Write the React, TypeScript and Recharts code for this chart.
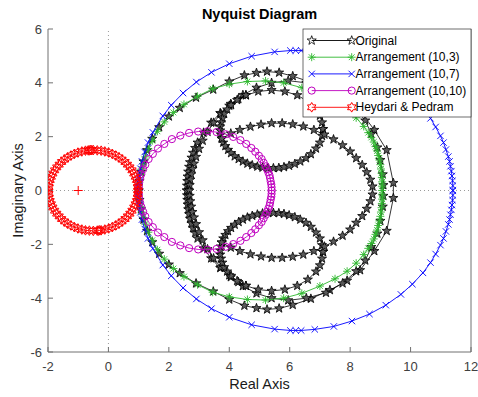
import React from 'react';
import { ScatterChart, Scatter, XAxis, YAxis, ReferenceLine } from 'recharts';

type Pt = [number, number];

const REAL_TICKS = [-2, 0, 2, 4, 6, 8, 10, 12];
const IMAG_TICKS = [-6, -4, -2, 0, 2, 4, 6];

const SERIES_NAMES = ['Original', 'Arrangement (10,3)', 'Arrangement (10,7)', 'Arrangement (10,10)', 'Heydari & Pedram'];

// Original design: outer branch starting at 1
const originalOuter: Pt[] = [
  [1.00, 0.00], [1.03, 0.35], [1.08, 0.70], [1.16, 1.08], [1.28, 1.50], [1.45, 1.92], [1.68, 2.35], [2.00, 2.75],
  [2.36, 3.07], [2.90, 3.45], [3.47, 3.75], [4.00, 4.05], [4.50, 4.28], [4.90, 4.37], [5.25, 4.42], [5.65, 4.38],
  [6.10, 4.25], [6.70, 4.02], [7.33, 3.70], [7.90, 3.35], [8.33, 2.96], [8.80, 2.25], [9.21, 1.50], [9.43, 0.28],
  [9.43, -0.28], [9.21, -1.50], [8.80, -2.25], [8.33, -2.96], [7.90, -3.35], [7.33, -3.70], [6.70, -4.02], [6.10, -4.25],
  [5.65, -4.38], [5.25, -4.42], [4.90, -4.37], [4.50, -4.28], [4.00, -4.05], [3.47, -3.75], [2.90, -3.45], [2.36, -3.07],
  [2.00, -2.75], [1.68, -2.35], [1.45, -1.92], [1.28, -1.50], [1.16, -1.08], [1.08, -0.70], [1.03, -0.35], [1.00, 0.00],
];

// Original design: branch starting at 2.6
const originalMiddle: Pt[] = [
  [2.60, 0.00], [2.60, 0.18], [2.61, 0.35], [2.62, 0.52], [2.64, 0.70], [2.67, 0.88], [2.70, 1.05], [2.75, 1.22],
  [2.80, 1.40], [2.87, 1.58], [2.95, 1.78], [3.15, 2.15], [3.40, 2.52], [3.70, 2.88], [4.05, 3.22], [4.45, 3.55],
  [4.90, 3.82], [5.40, 4.00], [5.95, 4.08], [6.55, 4.00], [7.20, 3.80], [7.75, 3.45], [8.20, 3.00], [8.50, 2.60],
  [8.70, 2.10], [8.90, 1.60], [9.00, 1.13], [9.08, 0.60], [9.10, 0.20],
  [9.10, -0.20], [9.08, -0.60], [9.00, -1.13], [8.90, -1.60], [8.70, -2.10], [8.50, -2.60], [8.20, -3.00], [7.75, -3.45],
  [7.20, -3.80], [6.55, -4.00], [5.95, -4.08], [5.40, -4.00], [4.90, -3.82], [4.45, -3.55], [4.05, -3.22], [3.70, -2.88],
  [3.40, -2.52], [3.15, -2.15], [2.95, -1.78], [2.87, -1.58], [2.80, -1.40], [2.75, -1.22], [2.70, -1.05], [2.67, -0.88],
  [2.64, -0.70], [2.62, -0.52], [2.61, -0.35], [2.60, -0.18], [2.60, 0.00],
];

// Original design: branch joining the two small loops through 2.68
const originalInner: Pt[] = [
  [4.55, 3.54], [4.30, 3.40], [4.00, 3.15], [3.72, 2.85], [3.48, 2.52], [3.28, 2.18], [3.12, 1.85], [3.00, 1.55],
  [2.90, 1.25], [2.83, 1.00], [2.78, 0.80], [2.74, 0.60], [2.71, 0.40], [2.69, 0.20], [2.68, 0.00],
  [2.69, -0.20], [2.71, -0.40], [2.74, -0.60], [2.78, -0.80], [2.83, -1.00], [2.90, -1.25], [3.00, -1.55], [3.12, -1.85],
  [3.28, -2.18], [3.48, -2.52], [3.72, -2.85], [4.00, -3.15], [4.30, -3.40], [4.55, -3.54],
];

// Original design: small loop above the real axis
const originalUpperLoop: Pt[] = [
  [7.10, 2.28], [7.07, 2.53], [7.00, 2.78], [6.87, 3.01], [6.60, 3.31], [6.25, 3.54], [5.84, 3.68], [5.40, 3.73],
  [4.96, 3.68], [4.55, 3.54], [4.26, 3.36], [4.06, 3.17], [3.93, 3.01], [3.83, 2.85], [3.77, 2.68], [3.73, 2.53],
  [3.70, 2.38], [3.70, 2.23], [3.72, 2.08], [3.75, 1.93], [3.80, 1.78], [3.87, 1.65], [3.96, 1.51], [4.06, 1.39],
  [4.18, 1.27], [4.31, 1.17], [4.45, 1.08], [4.60, 1.00], [4.76, 0.94], [4.93, 0.89], [5.10, 0.85], [5.28, 0.83],
  [5.46, 0.83], [5.64, 0.84], [5.81, 0.87], [5.98, 0.92], [6.17, 0.99], [6.35, 1.08], [6.54, 1.20], [6.70, 1.35],
  [6.87, 1.56], [7.00, 1.78], [7.07, 2.03], [7.10, 2.28],
];

// Original design: small loop below the real axis
const originalLowerLoop: Pt[] = [
  [7.10, -2.28], [7.07, -2.53], [7.00, -2.78], [6.87, -3.01], [6.60, -3.31], [6.25, -3.54], [5.84, -3.68], [5.40, -3.73],
  [4.96, -3.68], [4.55, -3.54], [4.26, -3.36], [4.06, -3.17], [3.93, -3.01], [3.83, -2.85], [3.77, -2.68], [3.73, -2.53],
  [3.70, -2.38], [3.70, -2.23], [3.72, -2.08], [3.75, -1.93], [3.80, -1.78], [3.87, -1.65], [3.96, -1.51], [4.06, -1.39],
  [4.18, -1.27], [4.31, -1.17], [4.45, -1.08], [4.60, -1.00], [4.76, -0.94], [4.93, -0.89], [5.10, -0.85], [5.28, -0.83],
  [5.46, -0.83], [5.64, -0.84], [5.81, -0.87], [5.98, -0.92], [6.17, -0.99], [6.35, -1.08], [6.54, -1.20], [6.70, -1.35],
  [6.87, -1.56], [7.00, -1.78], [7.07, -2.03], [7.10, -2.28],
];

// Original design: arc crossing the real axis at 8.77
const originalArc: Pt[] = [
  [3.75, 1.93], [4.05, 2.12], [4.35, 2.25], [4.70, 2.37], [5.05, 2.45], [5.40, 2.50], [5.75, 2.50], [6.10, 2.46],
  [6.45, 2.38], [6.80, 2.25], [7.15, 2.08], [7.45, 1.90], [7.75, 1.68], [8.00, 1.45], [8.20, 1.20], [8.40, 0.95],
  [8.55, 0.68], [8.67, 0.40], [8.74, 0.15],
  [8.74, -0.15], [8.67, -0.40], [8.55, -0.68], [8.40, -0.95], [8.20, -1.20], [8.00, -1.45], [7.75, -1.68], [7.45, -1.90],
  [7.15, -2.08], [6.80, -2.25], [6.45, -2.38], [6.10, -2.46], [5.75, -2.50], [5.40, -2.50], [5.05, -2.45], [4.70, -2.37],
  [4.35, -2.25], [4.05, -2.12], [3.75, -1.93],
];

const arrangement10x3: Pt[] = [
  [1.00, 0.00], [1.01, 0.20], [1.03, 0.40], [1.06, 0.60], [1.10, 0.80], [1.15, 1.00], [1.22, 1.25], [1.32, 1.55],
  [1.45, 1.85], [1.62, 2.20], [1.85, 2.55], [2.15, 2.90], [2.50, 3.20], [2.95, 3.50], [3.45, 3.78], [4.00, 3.95],
  [4.60, 4.05], [5.20, 4.07], [5.80, 4.00], [6.40, 3.82], [7.00, 3.55], [7.50, 3.28], [7.90, 3.00], [8.20, 2.70],
  [8.45, 2.38], [8.60, 2.15], [8.70, 1.97], [8.78, 1.80], [8.84, 1.63], [8.89, 1.47], [8.93, 1.30], [8.97, 1.13],
  [9.00, 0.96], [9.02, 0.80], [9.04, 0.64], [9.05, 0.48], [9.06, 0.32], [9.06, 0.16], [9.06, 0.00],
  [9.06, -0.16], [9.06, -0.32], [9.05, -0.48], [9.04, -0.64], [9.02, -0.80], [9.00, -0.96], [8.97, -1.13], [8.93, -1.30],
  [8.89, -1.47], [8.84, -1.63], [8.78, -1.80], [8.70, -1.97], [8.60, -2.15], [8.45, -2.38], [8.20, -2.70], [7.90, -3.00],
  [7.50, -3.28], [7.00, -3.55], [6.40, -3.82], [5.80, -4.00], [5.20, -4.07], [4.60, -4.05], [4.00, -3.95], [3.45, -3.78],
  [2.95, -3.50], [2.50, -3.20], [2.15, -2.90], [1.85, -2.55], [1.62, -2.20], [1.45, -1.85], [1.32, -1.55], [1.22, -1.25],
  [1.15, -1.00], [1.10, -0.80], [1.06, -0.60], [1.03, -0.40], [1.01, -0.20], [1.00, 0.00],
];

const arrangement10x7: Pt[] = [
  [11.40, 0.00], [11.40, 0.18], [11.39, 0.36], [11.37, 0.54], [11.35, 0.72], [11.32, 0.90], [11.29, 1.08], [11.25, 1.26],
  [11.17, 1.52], [11.09, 1.78], [10.99, 2.03], [10.83, 2.36], [10.66, 2.68], [10.41, 3.06], [10.06, 3.48], [9.68, 3.86],
  [9.18, 4.26], [8.64, 4.59], [8.06, 4.85], [7.46, 5.05], [6.83, 5.16], [6.38, 5.20], [6.20, 5.20], [6.02, 5.20],
  [5.50, 5.15], [4.74, 4.99], [4.00, 4.71], [3.41, 4.39], [2.91, 4.03], [2.47, 3.62], [2.08, 3.17], [1.80, 2.77],
  [1.47, 2.16], [1.31, 1.78], [1.20, 1.43], [1.11, 1.08], [1.06, 0.81], [1.03, 0.54], [1.01, 0.27], [1.00, 0.00],
  [1.01, -0.27], [1.03, -0.54], [1.06, -0.81], [1.11, -1.08], [1.20, -1.43], [1.31, -1.78], [1.47, -2.16], [1.80, -2.77],
  [2.08, -3.17], [2.47, -3.62], [2.91, -4.03], [3.41, -4.39], [4.00, -4.71], [4.74, -4.99], [5.50, -5.15], [6.02, -5.20],
  [6.20, -5.20], [6.38, -5.20], [6.83, -5.16], [7.46, -5.05], [8.06, -4.85], [8.64, -4.59], [9.18, -4.26], [9.68, -3.86],
  [10.06, -3.48], [10.41, -3.06], [10.66, -2.68], [10.83, -2.36], [10.99, -2.03], [11.09, -1.78], [11.17, -1.52], [11.25, -1.26],
  [11.29, -1.08], [11.32, -0.90], [11.35, -0.72], [11.37, -0.54], [11.39, -0.36], [11.40, -0.18], [11.40, 0.00],
];

const arrangement10x10: Pt[] = [
  [5.40, 0.00], [5.40, 0.12], [5.39, 0.23], [5.37, 0.34], [5.35, 0.46], [5.33, 0.57], [5.29, 0.68], [5.25, 0.79],
  [5.21, 0.90], [5.14, 1.03], [5.07, 1.17], [4.98, 1.29], [4.86, 1.44], [4.73, 1.58], [4.56, 1.73], [4.37, 1.87],
  [4.13, 1.99], [3.88, 2.09], [3.58, 2.17], [3.28, 2.20], [2.97, 2.19], [2.67, 2.14], [2.38, 2.04], [2.10, 1.91],
  [1.85, 1.73], [1.64, 1.56], [1.47, 1.36], [1.33, 1.17], [1.22, 0.96], [1.15, 0.79], [1.09, 0.61], [1.05, 0.46],
  [1.02, 0.31], [1.01, 0.15], [1.00, 0.00],
  [1.01, -0.15], [1.02, -0.31], [1.05, -0.46], [1.09, -0.61], [1.15, -0.79], [1.22, -0.96], [1.33, -1.17], [1.47, -1.36],
  [1.64, -1.56], [1.85, -1.73], [2.10, -1.91], [2.38, -2.04], [2.67, -2.14], [2.97, -2.19], [3.28, -2.20], [3.58, -2.17],
  [3.88, -2.09], [4.13, -1.99], [4.37, -1.87], [4.56, -1.73], [4.73, -1.58], [4.86, -1.44], [4.98, -1.29], [5.07, -1.17],
  [5.14, -1.03], [5.21, -0.90], [5.25, -0.79], [5.29, -0.68], [5.33, -0.57], [5.35, -0.46], [5.37, -0.34], [5.39, -0.23],
  [5.40, -0.12], [5.40, 0.00],
];

const heydariPedram: Pt[] = [
  [0.98, 0.00], [0.97, 0.13], [0.96, 0.26], [0.93, 0.39], [0.89, 0.51], [0.84, 0.63], [0.78, 0.75], [0.71, 0.86],
  [0.63, 0.96], [0.55, 1.06], [0.45, 1.15], [0.35, 1.23], [0.24, 1.30], [0.13, 1.36], [0.01, 1.41], [-0.12, 1.45],
  [-0.24, 1.48], [-0.37, 1.49], [-0.50, 1.50], [-0.55, 1.50], [-0.59, 1.50], [-0.63, 1.49], [-0.67, 1.49], [-0.76, 1.48],
  [-0.88, 1.45], [-1.01, 1.41], [-1.13, 1.36], [-1.24, 1.30], [-1.35, 1.23], [-1.45, 1.15], [-1.55, 1.06], [-1.63, 0.96],
  [-1.71, 0.86], [-1.78, 0.75], [-1.84, 0.63], [-1.89, 0.51], [-1.93, 0.39], [-1.96, 0.26], [-1.97, 0.13], [-1.98, 0.00],
  [-1.97, -0.13], [-1.96, -0.26], [-1.93, -0.39], [-1.89, -0.51], [-1.84, -0.63], [-1.78, -0.75], [-1.71, -0.86], [-1.63, -0.96],
  [-1.55, -1.06], [-1.45, -1.15], [-1.35, -1.23], [-1.24, -1.30], [-1.13, -1.36], [-1.01, -1.41], [-0.88, -1.45], [-0.76, -1.48],
  [-0.63, -1.49], [-0.50, -1.50], [-0.37, -1.49], [-0.33, -1.49], [-0.29, -1.48], [-0.24, -1.48], [-0.12, -1.45], [0.01, -1.41],
  [0.13, -1.36], [0.24, -1.30], [0.35, -1.23], [0.45, -1.15], [0.55, -1.06], [0.63, -0.96], [0.71, -0.86], [0.78, -0.75],
  [0.84, -0.63], [0.89, -0.51], [0.93, -0.39], [0.96, -0.26], [0.97, -0.13], [0.98, 0.00],
];

const criticalPoint: Pt[] = [[-1, 0]];

const toRows = (pts: Pt[]) => pts.map(([x, y]) => ({ x, y }));

const FONT = "'Liberation Sans', Arial, Helvetica, sans-serif";
const C_BLACK = '#000000';
const C_GREEN = '#2eb82e';
const C_BLUE = '#0000ff';
const C_MAGENTA = '#bf00bf';
const C_RED = '#ff0000';

const starPoints = (cx: number, cy: number, R: number, n: number, inner: number) => {
  const out: string[] = [];
  for (let i = 0; i < 2 * n; i++) {
    const a = -Math.PI / 2 + (i * Math.PI) / n;
    const r = i % 2 === 0 ? R : R * inner;
    out.push(`${(cx + r * Math.cos(a)).toFixed(2)},${(cy + r * Math.sin(a)).toFixed(2)}`);
  }
  return out.join(' ');
};

type MP = { cx: number; cy: number; filled?: boolean };

const Pentagram = ({ cx, cy, filled = true }: MP) => (
  <polygon points={starPoints(cx, cy, 4.8, 5, 0.4)} fill={filled ? '#5a5a5a' : 'none'}
    stroke={C_BLACK} strokeWidth={0.8} />
);
const Asterisk = ({ cx, cy }: MP) => {
  const s = 4, d = 2.9;
  return (
    <g stroke={C_GREEN} strokeWidth={0.9}>
      <line x1={cx - s} y1={cy} x2={cx + s} y2={cy} />
      <line x1={cx} y1={cy - s} x2={cx} y2={cy + s} />
      <line x1={cx - d} y1={cy - d} x2={cx + d} y2={cy + d} />
      <line x1={cx - d} y1={cy + d} x2={cx + d} y2={cy - d} />
    </g>
  );
};
const Cross = ({ cx, cy }: MP) => {
  const d = 3.2;
  return (
    <g stroke={C_BLUE} strokeWidth={0.9}>
      <line x1={cx - d} y1={cy - d} x2={cx + d} y2={cy + d} />
      <line x1={cx - d} y1={cy + d} x2={cx + d} y2={cy - d} />
    </g>
  );
};
const Ring = ({ cx, cy }: MP) => <circle cx={cx} cy={cy} r={3.6} fill="none" stroke={C_MAGENTA} strokeWidth={1} />;
const Hexagram = ({ cx, cy }: MP) => (
  <polygon points={starPoints(cx, cy, 4.8, 6, 0.577)} fill="none" stroke={C_RED} strokeWidth={1} />
);
const Plus = ({ cx, cy }: MP) => {
  const s = 4.5;
  return (
    <g stroke={C_RED} strokeWidth={1}>
      <line x1={cx - s} y1={cy} x2={cx + s} y2={cy} />
      <line x1={cx} y1={cy - s} x2={cx} y2={cy + s} />
    </g>
  );
};

const W = 478;
const H = 397;
const PLOT = { left: 48, right: 471, top: 29, bottom: 352 };

const legendRows = [
  { name: SERIES_NAMES[0], color: C_BLACK, M: Pentagram },
  { name: SERIES_NAMES[1], color: C_GREEN, M: Asterisk },
  { name: SERIES_NAMES[2], color: C_BLUE, M: Cross },
  { name: SERIES_NAMES[3], color: C_MAGENTA, M: Ring },
  { name: SERIES_NAMES[4], color: C_RED, M: Hexagram },
];

const blackSegments = [originalOuter, originalMiddle, originalInner, originalUpperLoop, originalLowerLoop, originalArc];

export default function App() {
  return (
    <div style={{ position: 'absolute', left: 0, top: 0, width: W, height: H, background: '#fff', fontFamily: FONT }}>
      <ScatterChart width={W} height={H} margin={{ top: 29, right: 6, bottom: 0, left: 0 }}>
        <XAxis
          xAxisId={0}
          type="number"
          dataKey="x"
          domain={[-2, 12]}
          ticks={REAL_TICKS}
          allowDataOverflow
          height={45}
          stroke="#707070"
          tick={{ fill: '#404040', fontSize: 13 }}
          tickSize={-5}
          tickMargin={15}
        />
        <XAxis
          xAxisId="top"
          orientation="top"
          type="number"
          dataKey="x"
          domain={[-2, 12]}
          ticks={REAL_TICKS}
          allowDataOverflow
          height={0}
          stroke="#707070"
          tick={false}
          tickSize={-5}
        />
        <YAxis
          yAxisId={0}
          type="number"
          dataKey="y"
          domain={[-6, 6]}
          ticks={IMAG_TICKS}
          allowDataOverflow
          width={48}
          stroke="#707070"
          tick={{ fill: '#404040', fontSize: 13 }}
          tickSize={-5}
          tickMargin={11}
        />
        <YAxis
          yAxisId="right"
          orientation="right"
          type="number"
          dataKey="y"
          domain={[-6, 6]}
          ticks={IMAG_TICKS}
          allowDataOverflow
          width={1}
          stroke="#707070"
          tick={false}
          tickSize={-5}
        />
        <ReferenceLine x={0} stroke="#9a9a9a" strokeDasharray="1 3" />
        <ReferenceLine y={0} stroke="#9a9a9a" strokeDasharray="1 3" />
        {blackSegments.map((seg, i) => (
          <Scatter
            key={`orig-${i}`}
            name={SERIES_NAMES[0]}
            data={toRows(seg)}
            line={{ stroke: C_BLACK, strokeWidth: 0.8 }}
            lineType="joint"
            shape={(p: any) => <Pentagram cx={p.cx} cy={p.cy} />}
            isAnimationActive={false}
          />
        ))}
        <Scatter
          name={SERIES_NAMES[1]}
          data={toRows(arrangement10x3)}
          line={{ stroke: C_GREEN, strokeWidth: 0.9 }}
          lineType="joint"
          shape={(p: any) => <Asterisk cx={p.cx} cy={p.cy} />}
          isAnimationActive={false}
        />
        <Scatter
          name={SERIES_NAMES[2]}
          data={toRows(arrangement10x7)}
          line={{ stroke: C_BLUE, strokeWidth: 0.9 }}
          lineType="joint"
          shape={(p: any) => <Cross cx={p.cx} cy={p.cy} />}
          isAnimationActive={false}
        />
        <Scatter
          name={SERIES_NAMES[3]}
          data={toRows(arrangement10x10)}
          line={{ stroke: C_MAGENTA, strokeWidth: 0.9 }}
          lineType="joint"
          shape={(p: any) => <Ring cx={p.cx} cy={p.cy} />}
          isAnimationActive={false}
        />
        <Scatter
          name={SERIES_NAMES[4]}
          data={toRows(heydariPedram)}
          line={{ stroke: C_RED, strokeWidth: 0.9 }}
          lineType="joint"
          shape={(p: any) => <Hexagram cx={p.cx} cy={p.cy} />}
          isAnimationActive={false}
        />
        <Scatter
          name="critical point"
          data={toRows(criticalPoint)}
          shape={(p: any) => <Plus cx={p.cx} cy={p.cy} />}
          isAnimationActive={false}
        />
      </ScatterChart>

      <svg width={W} height={H} style={{ position: 'absolute', left: 0, top: 0, pointerEvents: 'none' }}>
        <text x={(PLOT.left + PLOT.right) / 2} y={14} textAnchor="middle" dominantBaseline="central"
          fontSize={14.5} fontWeight="bold" fill="#000" fontFamily={FONT}>Nyquist Diagram</text>
        <text x={(PLOT.left + PLOT.right) / 2} y={384} textAnchor="middle" dominantBaseline="central"
          fontSize={14.5} fill="#1a1a1a" fontFamily={FONT}>Real Axis</text>
        <text x={18} y={(PLOT.top + PLOT.bottom) / 2} textAnchor="middle" dominantBaseline="central"
          fontSize={14.5} fill="#1a1a1a" fontFamily={FONT}
          transform={`rotate(-90 18 ${(PLOT.top + PLOT.bottom) / 2})`}>Imaginary Axis</text>

        <rect x={303} y={PLOT.top} width={PLOT.right - 303} height={88} fill="#fff" stroke="#303030" strokeWidth={0.7} />
        {legendRows.map((r, i) => {
          const y = 40.5 + i * 16.7;
          const M = r.M;
          return (
            <g key={r.name}>
              <line x1={311.7} y1={y} x2={351.7} y2={y} stroke={r.color} strokeWidth={0.9} />
              <M cx={311.7} cy={y} filled={false} />
              <M cx={351.7} cy={y} filled={false} />
              <text x={355.5} y={y} dominantBaseline="central" fontSize={12} fill="#000" fontFamily={FONT}>{r.name}</text>
            </g>
          );
        })}
      </svg>
    </div>
  );
}
